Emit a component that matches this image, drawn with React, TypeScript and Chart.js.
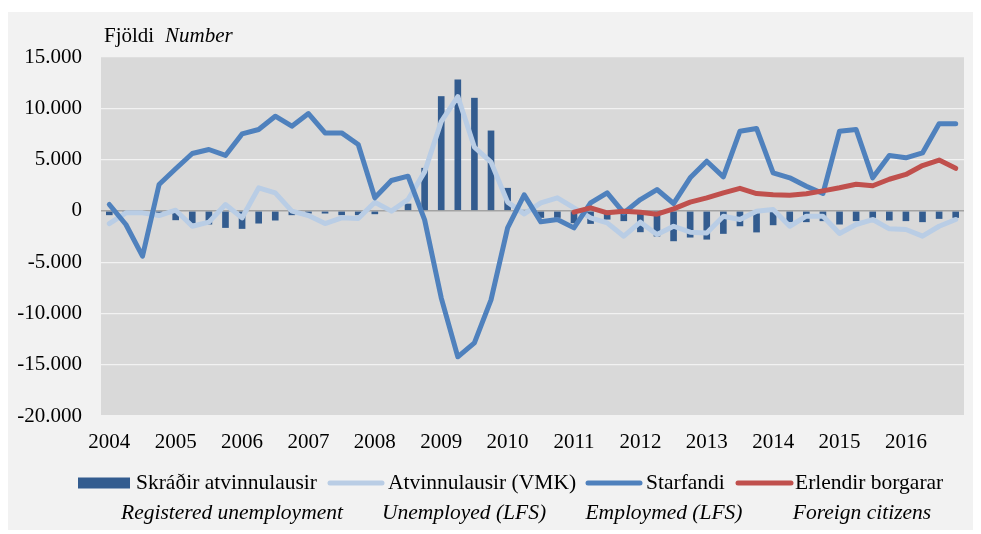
import React, { useEffect, useRef } from 'react';
import { Chart, registerables } from 'chart.js';

Chart.register(...registerables);

// Tick labels (years) and quarters
const years = ['2004', '2005', '2006', '2007', '2008', '2009', '2010', '2011', '2012', '2013', '2014', '2015', '2016'];
const quarters = ['Q1', 'Q2', 'Q3', 'Q4'];

// Skráðir atvinnulausir (bars)
const skradir = [
  -420, -130, 0, -200, -910, -1235, -1330, -1660, -1755, -1235,
  -940, -420, -260, -260, -420, -420, -325, -65, 700, 4190,
  11180, 12800, 11020, 7830, 2240, 100, -680, -680, -1200, -1270,
  -850, -1000, -2080, -2500, -2960, -2600, -2800, -2240, -1500, -2100,
  -1400, -1100, -1100, -1000, -1330, -1000, -680, -940, -1000, -1100, -780, -680,
];

// Atvinnulausir (VMK)
const vmk = [
  -1235, -195, -195, -455, 65, -1500, -1100, 620, -680, 2240,
  1755, -30, -455, -1235, -680, -750, 845, -30, 1100, 3800,
  8700, 11140, 6200, 4750, 850, -290, 780, 1270, 290, -680,
  -1170, -2470, -1100, -2310, -1500, -2080, -2150, -520, -845, -30,
  130, -1500, -520, -520, -2210, -1330, -845, -1755, -1820, -2470, -1500, -845,
];

// Starfandi
const starfandi = [
  620, -1330, -4420, 2570, 4100, 5590, 5980, 5400, 7500, 7930,
  9230, 8255, 9490, 7600, 7600, 6470, 1270, 2960, 3380, -880,
  -8480, -14230, -12870, -8680, -1660, 1560, -1070, -845, -1660, 780,
  1755, -195, 1100, 2080, 715, 3220, 4840, 3315, 7770, 8030,
  3700, 3220, 2400, 1690, 7770, 7930, 3220, 5400, 5170, 5650, 8500, 8500,
];

// Erlendir borgarar (from 2011 Q1)
const erlendir = [
  null, null, null, null, null, null, null, null, null, null,
  null, null, null, null, null, null, null, null, null, null,
  null, null, null, null, null, null, null, null, -130, 290,
  -195, -30, -130, -325, 195, 845, 1270, 1755, 2200, 1690,
  1560, 1530, 1660, 1950, 2250, 2600, 2450, 3080, 3550, 4420, 4950, 4150,
];

const legendLabels = ['Skráðir atvinnulausir', 'Atvinnulausir (VMK)', 'Starfandi', 'Erlendir borgarar'];
const legendSubLabels = ['Registered unemployment', 'Unemployed (LFS)', 'Employmed (LFS)', 'Foreign citizens'];
const titleMain = 'Fjöldi';
const titleSub = 'Number';

const colBar = '#335c8f';
const colVmk = '#b9cde5';
const colStarf = '#4f81bd';
const colErl = '#c0504d';

const FONT = '"Liberation Serif", "Times New Roman", serif';

function fmt(v: number): string {
  const s = Math.abs(v).toString().replace(/\B(?=(\d{3})+(?!\d))/g, '.');
  return (v < 0 ? '-' : '') + s;
}

export default function App() {
  const ref = useRef<HTMLCanvasElement>(null);

  useEffect(() => {
    const labels = years.flatMap((y) => quarters.map((q) => `${y} ${q}`));

    const bgPlugin = {
      id: 'plotBg',
      beforeDraw(chart: any) {
        const { ctx, chartArea } = chart;
        ctx.save();
        ctx.fillStyle = '#d9d9d9';
        ctx.fillRect(chartArea.left, chartArea.top, chartArea.right - chartArea.left, chartArea.bottom - chartArea.top);
        ctx.restore();
      },
    };

    const textPlugin = {
      id: 'customText',
      afterDraw(chart: any) {
        const ctx = chart.ctx as CanvasRenderingContext2D;
        ctx.save();
        ctx.fillStyle = '#000';
        ctx.textBaseline = 'middle';
        ctx.textAlign = 'left';
        // title
        ctx.font = `21px ${FONT}`;
        ctx.fillText(titleMain, 96, 24);
        ctx.font = `italic 21px ${FONT}`;
        ctx.fillText(titleSub, 157, 24);

        // legend row 1
        const rowY = 471;
        const sym = [
          { x0: 70, x1: 122, type: 'rect', color: colBar },
          { x0: 322, x1: 374, type: 'line', color: colVmk },
          { x0: 580, x1: 632, type: 'line', color: colStarf },
          { x0: 730, x1: 783, type: 'line', color: colErl },
        ];
        const textX = [128, 380, 638, 787];
        sym.forEach((s, i) => {
          if (s.type === 'rect') {
            ctx.fillStyle = s.color;
            ctx.fillRect(s.x0, rowY - 5.5, s.x1 - s.x0, 11);
          } else {
            ctx.strokeStyle = s.color;
            ctx.lineWidth = 5;
            ctx.lineCap = 'round';
            ctx.beginPath();
            ctx.moveTo(s.x0, rowY);
            ctx.lineTo(s.x1, rowY);
            ctx.stroke();
          }
          ctx.fillStyle = '#000';
          ctx.font = `21.5px ${FONT}`;
          ctx.textAlign = 'left';
          ctx.fillText(legendLabels[i], textX[i], rowY);
        });

        // legend row 2 (italic English)
        const subCenters = [224, 456, 656, 854];
        ctx.font = `italic 21.5px ${FONT}`;
        ctx.textAlign = 'center';
        legendSubLabels.forEach((t, i) => {
          ctx.fillText(t, subCenters[i], 501);
        });
        ctx.restore();
      },
    };

    const chart = new Chart(ref.current!, {
      type: 'bar',
      data: {
        labels,
        datasets: [
          {
            type: 'bar',
            label: legendLabels[0],
            data: skradir,
            backgroundColor: colBar,
            barPercentage: 0.4,
            categoryPercentage: 1,
            order: 4,
          },
          {
            type: 'line',
            label: legendLabels[1],
            data: vmk,
            borderColor: colVmk,
            backgroundColor: colVmk,
            borderWidth: 5,
            pointRadius: 0,
            tension: 0,
            borderCapStyle: 'round',
            borderJoinStyle: 'round',
            order: 3,
          },
          {
            type: 'line',
            label: legendLabels[2],
            data: starfandi,
            borderColor: colStarf,
            backgroundColor: colStarf,
            borderWidth: 5,
            pointRadius: 0,
            tension: 0,
            borderCapStyle: 'round',
            borderJoinStyle: 'round',
            order: 2,
          },
          {
            type: 'line',
            label: legendLabels[3],
            data: erlendir,
            borderColor: colErl,
            backgroundColor: colErl,
            borderWidth: 5,
            pointRadius: 0,
            tension: 0,
            borderCapStyle: 'round',
            borderJoinStyle: 'round',
            spanGaps: false,
            order: 1,
          },
        ] as any,
      },
      options: {
        responsive: false,
        animation: false,
        layout: { padding: { left: 0, right: 9, top: 45, bottom: 0 } },
        plugins: {
          legend: { display: false },
          tooltip: { enabled: false },
          title: { display: false },
        },
        scales: {
          x: {
            grid: { display: false, drawTicks: false },
            border: { display: false },
            ticks: {
              autoSkip: false,
              maxRotation: 0,
              minRotation: 0,
              padding: 14,
              color: '#000',
              font: { family: FONT, size: 21 },
              callback: (_v: any, i: number) => (i % 4 === 0 ? years[i / 4] : ''),
            },
            afterFit: (scale: any) => {
              scale.height = 114;
            },
          },
          y: {
            min: -20000,
            max: 15000,
            ticks: {
              stepSize: 5000,
              padding: 19,
              color: '#000',
              font: { family: FONT, size: 21 },
              callback: (v: any) => fmt(Number(v)),
            },
            grid: {
              drawTicks: false,
              color: (c: any) => (c.tick && c.tick.value === 0 ? '#a3a3a3' : '#f2f2f2'),
              lineWidth: (c: any) => (c.tick && c.tick.value === 0 ? 1.5 : 1.2),
            },
            border: { display: false },
            afterFit: (scale: any) => {
              scale.width = 93;
            },
          },
        },
      } as any,
      plugins: [bgPlugin, textPlugin],
    });
    return () => chart.destroy();
  }, []);

  return (
    <div style={{ width: 965, height: 518, marginTop: 4, background: '#f2f2f2' }}>
      <canvas ref={ref} width={965} height={518} style={{ display: 'block' }} />
    </div>
  );
}
